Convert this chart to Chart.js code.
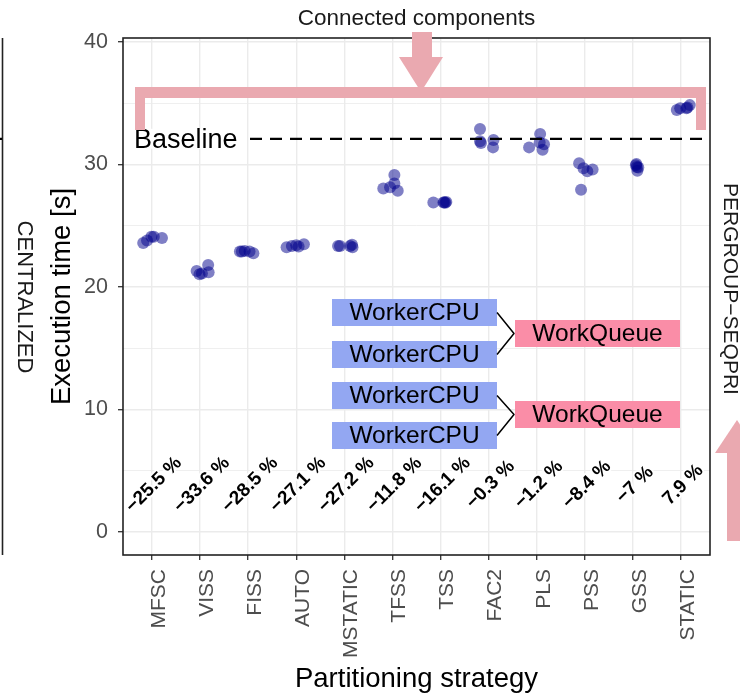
<!DOCTYPE html>
<html><head><meta charset="utf-8">
<script src="https://cdn.jsdelivr.net/npm/chart.js@4.4.1/dist/chart.umd.min.js"></script>
<style>html,body{margin:0;padding:0;background:#fff;}canvas{display:block;}</style>
</head><body>
<canvas id="c" width="740" height="698"></canvas>
<script>
// ---- data ----
const categories = ['MFSC','VISS','FISS','AUTO','MSTATIC','TFSS','TSS','FAC2','PLS','PSS','GSS','STATIC'];
const execTimes = [
  [23.6, 23.8, 24.1, 24.1, 24.0],
  [21.3, 21.05, 21.1, 21.8, 21.2],
  [22.9, 22.95, 22.9, 22.75, 22.9],
  [23.25, 23.35, 23.4, 23.3, 23.5],
  [23.35, 23.35, 23.35, 23.45, 23.25],
  [28.05, 28.15, 29.15, 28.45, 27.85],
  [26.9, 26.9, 26.88, 26.95, 26.92],
  [32.9, 31.9, 31.75, 32.0, 31.4],
  [31.4, 32.5, 31.8, 31.65, 31.2],
  [30.1, 29.7, 29.45, 29.6, 27.95],
  [30.05, 29.8, 29.5, 29.75, 29.95],
  [34.45, 34.6, 34.6, 34.85, 34.65]
];
const jitter = [
  [-0.18, -0.10, -0.01, 0.04, 0.21],
  [-0.07, -0.01, 0.04, 0.17, 0.18],
  [-0.17, -0.07, 0.03, 0.11, -0.13],
  [-0.20, -0.09, 0.00, 0.05, 0.16],
  [-0.13, -0.09, 0.12, 0.16, 0.17],
  [-0.19, -0.05, 0.04, 0.04, 0.11],
  [-0.15, 0.06, 0.10, 0.12, 0.08],
  [-0.18, -0.18, -0.16, 0.10, 0.09],
  [-0.16, 0.07, 0.06, 0.15, 0.12],
  [-0.12, -0.03, 0.05, 0.16, -0.08],
  [0.07, 0.08, 0.09, 0.11, 0.06],
  [-0.09, -0.02, 0.11, 0.18, 0.13]
];
const changeLabels = ['−25.5 %','−33.6 %','−28.5 %','−27.1 %','−27.2 %','−11.8 %','−16.1 %','−0.3 %','−1.2 %','−8.4 %','−7 %','7.9 %'];
const yTicks = [0, 5, 10, 15, 20, 25, 30, 35, 40];
const baselineTime = 32.1;
const labelY = 3.85;

const points = [];
categories.forEach((c, i) => execTimes[i].forEach((t, j) => points.push({x: i + 1 + jitter[i][j], y: t})));

const FONT = "'Liberation Sans', Arial, sans-serif";
Chart.defaults.font.family = FONT;
const PINK = '#EAA9B0';

const annot = {
  id: 'annot',
  afterDatasetsDraw(chart) {
    const {ctx, chartArea: a, scales: {x, y}} = chart;
    ctx.save();
    // baseline
    const by = y.getPixelForValue(baselineTime);
    ctx.strokeStyle = '#000'; ctx.lineWidth = 2.3;
    ctx.setLineDash([12, 8]); ctx.lineDashOffset = -7;
    ctx.beginPath(); ctx.moveTo(a.left, by); ctx.lineTo(a.right, by); ctx.stroke();
    ctx.setLineDash([]);
    ctx.fillStyle = '#fff'; ctx.fillRect(a.left + 5, by - 10, 118, 20);
    ctx.fillStyle = '#000'; ctx.font = '27px ' + FONT;
    ctx.textAlign = 'left'; ctx.textBaseline = 'alphabetic';
    ctx.fillText('Baseline', a.left + 11, by + 9.5);
    // panel border
    ctx.strokeStyle = '#222'; ctx.lineWidth = 1.6;
    ctx.strokeRect(a.left, a.top, a.right - a.left, a.bottom - a.top);
    // percentage labels
    ctx.font = 'bold 19px ' + FONT;
    ctx.textAlign = 'center'; ctx.textBaseline = 'middle';
    ctx.lineJoin = 'round';
    changeLabels.forEach((lab, i) => {
      const px = x.getPixelForValue(i + 1) + 2, py = y.getPixelForValue(labelY);
      ctx.save(); ctx.translate(px, py); ctx.rotate(-Math.PI / 4);
      ctx.strokeStyle = '#fff'; ctx.lineWidth = 4; ctx.strokeText(lab, 0, 0);
      ctx.fillStyle = '#000'; ctx.fillText(lab, 0, 0);
      ctx.restore();
    });
    // worker / queue boxes
    ctx.font = '24.5px ' + FONT;
    const wBoxes = [299, 341, 382, 422];
    wBoxes.forEach(t => {
      ctx.fillStyle = '#93A7F2'; ctx.fillRect(332, t, 165, 27);
      ctx.fillStyle = '#000'; ctx.fillText('WorkerCPU', 414.5, t + 14);
    });
    [320, 401].forEach(t => {
      ctx.fillStyle = '#FA8DA7'; ctx.fillRect(515, t, 165, 27);
      ctx.fillStyle = '#000'; ctx.fillText('WorkQueue', 597.5, t + 14);
    });
    ctx.strokeStyle = '#000'; ctx.lineWidth = 1.5;
    [[312.5, 333.5, 354.5], [395.5, 414.5, 435.5]].forEach(([a1, m, b1]) => {
      ctx.beginPath(); ctx.moveTo(497, a1); ctx.lineTo(514, m); ctx.lineTo(497, b1); ctx.stroke();
    });
    // pink bracket + arrows
    ctx.fillStyle = PINK;
    ctx.fillRect(135, 87, 571, 11);
    ctx.fillRect(135, 87, 10, 43);
    ctx.fillRect(696, 87, 10, 43);
    ctx.fillRect(412, 32, 20, 27);
    ctx.beginPath(); ctx.moveTo(399, 57); ctx.lineTo(443, 57); ctx.lineTo(421, 92); ctx.closePath(); ctx.fill();
    ctx.fillRect(727, 452, 20, 89);
    ctx.beginPath(); ctx.moveTo(715, 453); ctx.lineTo(759, 453); ctx.lineTo(737, 420); ctx.closePath(); ctx.fill();
    // texts outside
    ctx.fillStyle = '#1a1a1a';
    ctx.font = '22.5px ' + FONT; ctx.textAlign = 'center'; ctx.textBaseline = 'alphabetic';
    ctx.fillText('Connected components', 416.5, 25);
    ctx.textBaseline = 'middle';
    ctx.save(); ctx.translate(24, 297); ctx.rotate(Math.PI / 2);
    ctx.font = '22px ' + FONT; ctx.fillText('CENTRALIZED', 0, 0); ctx.restore();
    ctx.save(); ctx.translate(730, 289); ctx.rotate(Math.PI / 2);
    ctx.font = '21px ' + FONT; ctx.fillText('PERGROUP−SEQPRI', 0, 0); ctx.restore();
    // neighbouring panel edge
    ctx.strokeStyle = '#222'; ctx.lineWidth = 1.6;
    ctx.beginPath(); ctx.moveTo(2.5, a.top); ctx.lineTo(2.5, a.bottom); ctx.stroke();
    ctx.strokeStyle = '#000'; ctx.lineWidth = 2.3;
    ctx.beginPath(); ctx.moveTo(0, by); ctx.lineTo(2, by); ctx.stroke();
    ctx.restore();
  }
};

new Chart(document.getElementById('c'), {
  type: 'scatter',
  data: { datasets: [{ data: points, pointRadius: 6, pointHoverRadius: 6,
    backgroundColor: 'rgba(0,0,139,0.5)', borderWidth: 0 }] },
  options: {
    responsive: false, animation: false, devicePixelRatio: 1,
    layout: { padding: { top: 38, right: 30, left: 0, bottom: 0 } },
    plugins: { legend: { display: false }, tooltip: { enabled: false } },
    scales: {
      x: {
        type: 'linear', min: 0.4, max: 12.6,
        afterBuildTicks: s => { s.ticks = categories.map((c, i) => ({ value: i + 1 })); },
        afterFit: s => { s.height = 143; },
        border: { display: false },
        grid: { color: '#EBEBEB', lineWidth: 1.4, tickColor: '#333', tickLength: 5, tickWidth: 1.3 },
        ticks: { autoSkip: false, minRotation: 90, maxRotation: 90, padding: 9, labelOffset: 7,
          color: '#4D4D4D', font: { size: 21 },
          callback: v => categories[Math.round(v) - 1] },
        title: { display: true, text: 'Partitioning strategy', color: '#000',
          font: { size: 27.5 }, padding: { top: 0, bottom: 2 } }
      },
      y: {
        type: 'linear', min: -1.88, max: 40.33,
        afterBuildTicks: s => { s.ticks = yTicks.map(v => ({ value: v })); },
        afterFit: s => { s.width = 123; },
        border: { display: false },
        grid: { color: '#EBEBEB',
          lineWidth: c => (c.tick && c.tick.value % 10 === 0) ? 1.4 : 0.8,
          tickColor: c => (c.tick && c.tick.value % 10 === 0) ? '#333' : 'rgba(0,0,0,0)',
          tickLength: 5, tickWidth: 1.3 },
        ticks: { autoSkip: false, padding: 10, color: '#4D4D4D', font: { size: 21.5 },
          callback: v => (v % 10 === 0 ? String(v) : '') },
        title: { display: true, text: 'Execution time [s]', color: '#000',
          font: { size: 27.5 }, padding: { top: 46, bottom: 0 } }
      }
    }
  },
  plugins: [annot]
});
</script>
</body></html>
